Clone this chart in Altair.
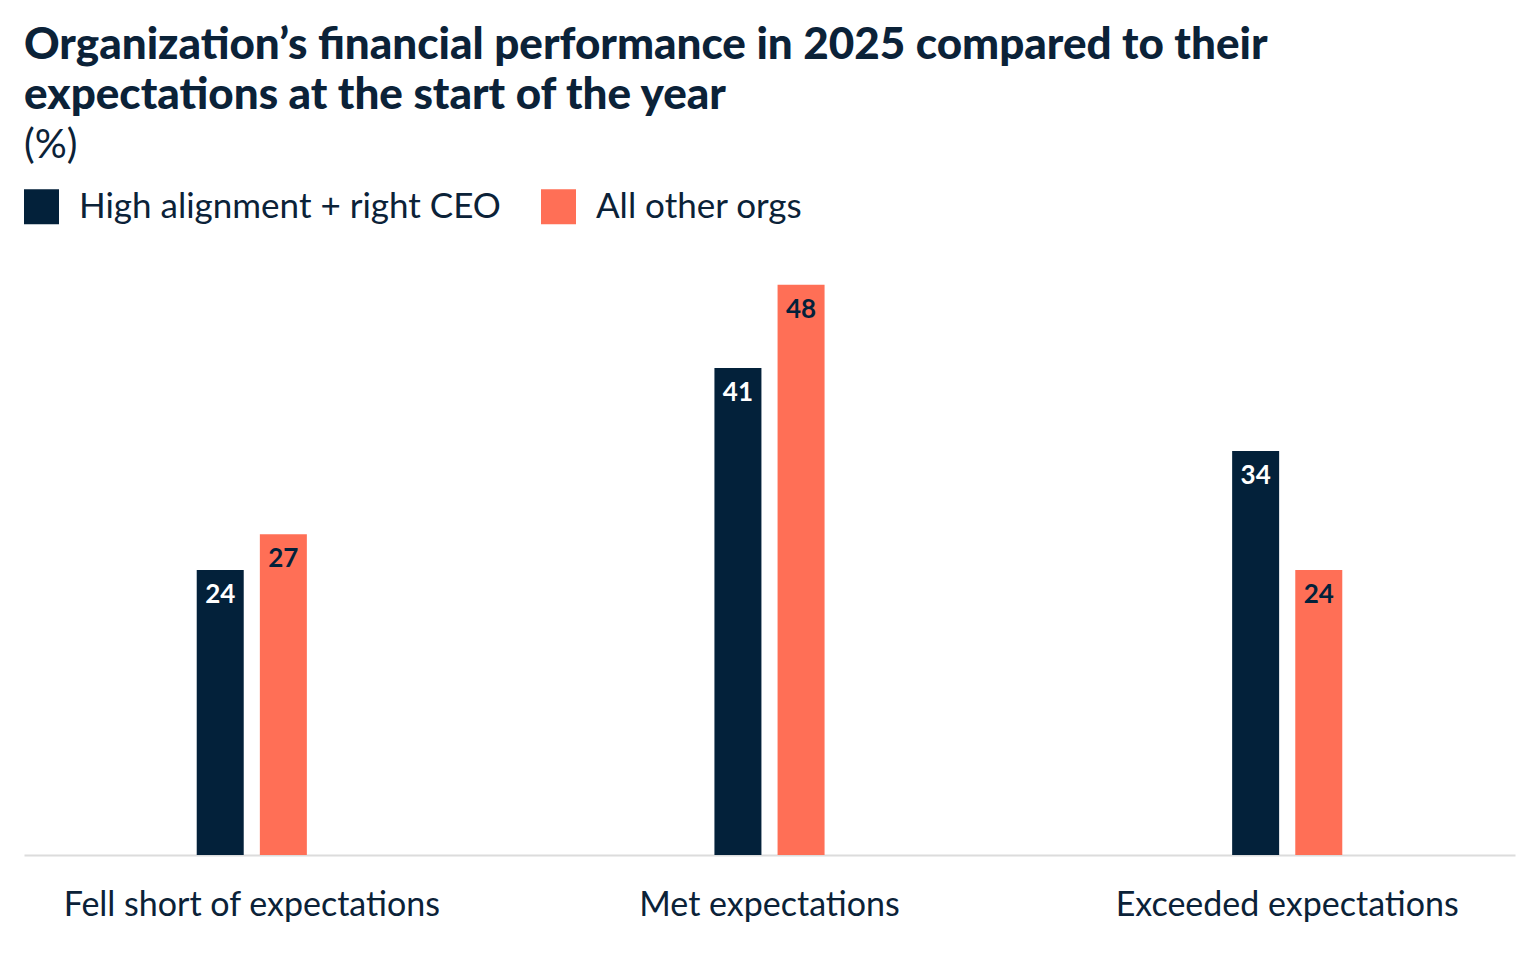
import altair as alt
import pandas as pd

# Survey outcomes and the two respondent groups
categories = ["Fell short of expectations", "Met expectations", "Exceeded expectations"]
groups = ["High alignment + right CEO", "All other orgs"]
high_alignment = [24, 41, 34]
all_other = [27, 48, 24]

rows = []
for cat, a, b in zip(categories, high_alignment, all_other):
    rows.append({"outcome": cat, "group": groups[0], "pct": a})
    rows.append({"outcome": cat, "group": groups[1], "pct": b})
df = pd.DataFrame(rows)

NAVY = "#03213A"
CORAL = "#FF6F56"
TEXT = "#0B2238"
FONT = "Lato"
PLOT_W = 1491
PLOT_H = 594

x_enc = alt.X(
    "outcome:N",
    sort=categories,
    title=None,
    scale=alt.Scale(paddingInner=0.7, paddingOuter=0.29),
    axis=alt.Axis(
        labelAngle=0,
        labelFontSize=34,
        labelFont=FONT,
        labelColor=TEXT,
        labelPadding=33,
        labelLimit=0,
        ticks=False,
        domain=True,
        domainColor="#dcdcdc",
        domainWidth=2,
        grid=False,
    ),
)
xo_enc = alt.XOffset(
    "group:N", sort=groups, scale=alt.Scale(paddingInner=0, paddingOuter=0.23)
)
y_enc = alt.Y("pct:Q", scale=alt.Scale(domain=[0, 50]), axis=None)

bars = alt.Chart(df).mark_bar(width=47).encode(
    x=x_enc,
    xOffset=xo_enc,
    y=y_enc,
    color=alt.Color(
        "group:N",
        sort=groups,
        scale=alt.Scale(domain=groups, range=[NAVY, CORAL]),
        legend=alt.Legend(
            title=None,
            orient="none",
            legendX=0,
            legendY=-72,
            direction="horizontal",
            symbolType="square",
            symbolSize=1225,
            symbolStrokeWidth=0,
            symbolOpacity=1,
            labelFont=FONT,
            labelFontSize=35,
            labelColor=TEXT,
            labelOffset=20,
            labelLimit=0,
            columnPadding=40,
            padding=0,
        ),
    ),
)

labels = alt.Chart(df).mark_text(
    baseline="top", dy=12, fontSize=26, fontWeight="bold", font=FONT
).encode(
    x=alt.X("outcome:N", sort=categories),
    xOffset=alt.XOffset("group:N", sort=groups),
    y=alt.Y("pct:Q"),
    text=alt.Text("pct:Q"),
    color=alt.condition(
        alt.datum.group == groups[0], alt.value("white"), alt.value(NAVY)
    ),
)

chart = (
    alt.layer(bars, labels)
    .properties(
        width=PLOT_W,
        height=PLOT_H,
        background="white",
        title=alt.TitleParams(
            text=[
                "Organization\u2019s financial performance in 2025 compared to their",
                "expectations at the start of the year",
            ],
            subtitle="(%)",
            anchor="start",
            frame="group",
            font=FONT,
            fontSize=44,
            fontWeight=900,
            lineHeight=50,
            color=TEXT,
            subtitleFont=FONT,
            subtitleFontSize=40,
            subtitleColor=TEXT,
            subtitlePadding=8,
            offset=23,
        ),
        padding={"left": 24, "top": 24, "right": 25, "bottom": 10},
    )
    .configure_view(strokeWidth=0)
)

chart.save("out.html", embed_options={"renderer": "svg", "actions": False})
